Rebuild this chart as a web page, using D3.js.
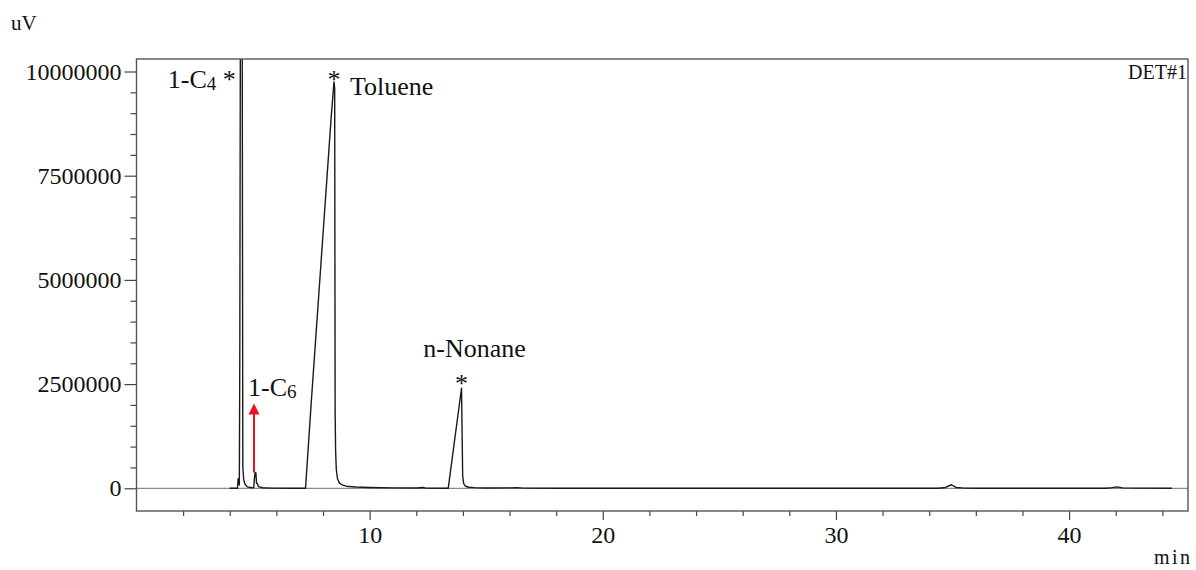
<!DOCTYPE html>
<html>
<head>
<meta charset="utf-8">
<script src="https://cdn.jsdelivr.net/npm/d3@7/dist/d3.min.js"></script>
<style>
  body { margin: 0; background: #fff; }
  svg text { font-family: "Liberation Serif", "Times New Roman", serif; fill: #111; }
</style>
</head>
<body>
<div id="chart"></div>
<script>
// chromatogram trace (min, uV)
const traceTime = [
  4.00, 4.33, 4.36, 4.38, 4.41, 4.43, 4.46, 4.53, 4.56, 4.60, 4.66, 4.75, 4.95,
  5.03, 5.06, 5.09, 5.12, 5.15, 5.19, 5.23, 5.40, 5.80, 6.50,
  7.25, 7.50, 7.80, 8.10, 8.35, 8.47, 8.50, 8.52, 8.54, 8.57, 8.62, 8.70, 8.82, 9.00, 9.40,
  10.0, 11.0, 12.0, 12.30, 12.40, 13.0,
  13.37, 13.94, 13.99, 14.03, 14.10, 14.25, 14.50, 15.0, 16.0, 16.30, 16.6, 18.0, 20.0,
  34.4, 34.7, 34.95, 35.15, 35.5, 36.0,
  41.6, 41.85, 42.05, 42.3, 42.8, 44.4
];
const traceSignal = [
  0, 0, 230000, 150000, 80000, 3000000, 12500000, 12500000, 500000, 200000, 90000, 35000, 12000,
  20000, 250000, 380000, 370000, 120000, 110000, 40000, 12000, 4000, 1000,
  0, 2100000, 4500000, 6900000, 8900000, 9750000, 9600000, 1800000, 900000, 450000, 230000, 130000, 80000, 50000, 30000,
  18000, 10000, 6000, 20000, 5000, 2000,
  0, 2400000, 300000, 120000, 55000, 25000, 15000, 8000, 10000, 15000, 3000, 1000, 0,
  0, 20000, 85000, 20000, 5000, 0,
  0, 15000, 35000, 10000, 3000, 0
];

// labelled peaks
const peakNames = ['1-C4', '1-C6', 'Toluene', 'n-Nonane'];
const peakTimes = [4.43, 5.06, 8.47, 13.94];
const peakSignals = [12500000, 380000, 9750000, 2400000];

const xTicks = [10, 20, 30, 40];
const yTicks = [0, 2500000, 5000000, 7500000, 10000000];
const xMinorTicks = d3.range(2, 45, 2).filter(d => d % 10 !== 0);
const yMinorTicks = d3.range(0, 10300000, 500000).filter(d => d % 2500000 !== 0);

const W = 1196, H = 570;
const MARGIN = {TOP: 59, RIGHT: 8, BOTTOM: 59, LEFT: 136.5};

const svg = d3.select('#chart').append('svg')
  .attr('width', W)
  .attr('height', H)
  .style('display', 'block');

svg.append('rect').attr('width', W).attr('height', H).attr('fill', '#fff');

const x = d3.scaleLinear()
  .domain([0, 45.1])
  .range([MARGIN.LEFT, W - MARGIN.RIGHT]);

const y = d3.scaleLinear()
  .domain([-545000, 10300000])
  .range([H - MARGIN.BOTTOM, MARGIN.TOP]);

svg.append('clipPath').attr('id', 'plot')
  .append('rect')
    .attr('x', MARGIN.LEFT)
    .attr('y', MARGIN.TOP)
    .attr('width', W - MARGIN.LEFT - MARGIN.RIGHT)
    .attr('height', H - MARGIN.TOP - MARGIN.BOTTOM);

// axes
const styleAxis = g => {
  g.select('.domain').remove();
  g.selectAll('line').attr('stroke', '#444').attr('stroke-width', 1.2);
  g.selectAll('text').attr('font-size', 24).attr('fill', '#333')
    .attr('font-family', '"Liberation Serif", serif');
};

svg.append('g')
  .attr('transform', `translate(${MARGIN.LEFT},0)`)
  .call(d3.axisLeft(y).tickValues(yMinorTicks).tickSize(6).tickFormat(''))
  .call(styleAxis);

svg.append('g')
  .attr('transform', `translate(${MARGIN.LEFT},0)`)
  .call(d3.axisLeft(y).tickValues(yTicks).tickSize(12).tickPadding(3).tickFormat(d3.format('d')))
  .call(styleAxis);

svg.append('g')
  .attr('transform', `translate(0,${H - MARGIN.BOTTOM})`)
  .call(d3.axisBottom(x).tickValues(xMinorTicks).tickSize(5).tickFormat(''))
  .call(styleAxis);

svg.append('g')
  .attr('transform', `translate(0,${H - MARGIN.BOTTOM})`)
  .call(d3.axisBottom(x).tickValues(xTicks).tickSize(9).tickPadding(6))
  .call(styleAxis);

// zero line
svg.append('line')
  .attr('x1', x(0)).attr('x2', x(45.1))
  .attr('y1', y(0)).attr('y2', y(0))
  .attr('stroke', '#8a8a8a')
  .attr('stroke-width', 1.2);

// trace
const points = traceTime.map((t, i) => [t, traceSignal[i]]);
svg.append('path')
  .datum(points)
  .attr('clip-path', 'url(#plot)')
  .attr('fill', 'none')
  .attr('stroke', '#1a1a1a')
  .attr('stroke-width', 1.4)
  .attr('stroke-linejoin', 'round')
  .attr('d', d3.line().x(d => x(d[0])).y(d => y(d[1])));

// frame
svg.append('rect')
  .attr('x', MARGIN.LEFT)
  .attr('y', MARGIN.TOP)
  .attr('width', W - MARGIN.LEFT - MARGIN.RIGHT)
  .attr('height', H - MARGIN.TOP - MARGIN.BOTTOM)
  .attr('fill', 'none')
  .attr('stroke', '#555')
  .attr('stroke-width', 1.4);

// axis titles
svg.append('text').attr('x', 11).attr('y', 30).attr('font-size', 21).attr('fill', '#333').text('uV');
svg.append('text').attr('x', 1154).attr('y', 564)
  .attr('font-size', 20).attr('letter-spacing', 2.5).attr('fill', '#333').text('min');
svg.append('text').attr('x', 1187).attr('y', 79).attr('text-anchor', 'end')
  .attr('font-size', 20).attr('fill', '#333').text('DET#1');

// peak annotations
const FS = 26;
const withSub = (sel, base, sub) => {
  sel.append('tspan').text(base);
  sel.append('tspan').attr('font-size', 19).attr('dy', 2).text(sub);
};

// 1-C4 (off-scale peak)
const c4 = svg.append('text')
  .attr('x', x(peakTimes[0]) - 4)
  .attr('y', MARGIN.TOP + 29)
  .attr('text-anchor', 'end')
  .attr('font-size', FS);
withSub(c4, '1-C', '4');
c4.append('tspan').attr('dy', -2).text(' *');

// 1-C6 with red arrow
const c6x = x(peakTimes[1]) - 0.5;
const c6 = svg.append('text')
  .attr('x', c6x - 6)
  .attr('y', y(peakSignals[1]) - 76)
  .attr('font-size', FS);
withSub(c6, '1-C', '6');

const arrowTop = y(peakSignals[1]) - 69;
svg.append('line')
  .attr('x1', c6x).attr('x2', c6x)
  .attr('y1', y(peakSignals[1])).attr('y2', arrowTop + 9)
  .attr('stroke', '#e8141e').attr('stroke-width', 2);
svg.append('path')
  .attr('d', `M${c6x},${arrowTop} L${c6x - 5.5},${arrowTop + 11} L${c6x + 5.5},${arrowTop + 11} Z`)
  .attr('fill', '#e8141e');

// Toluene
svg.append('text')
  .attr('x', x(peakTimes[2]))
  .attr('y', y(peakSignals[2]) + 6)
  .attr('text-anchor', 'middle')
  .attr('font-size', FS)
  .text('*');
svg.append('text')
  .attr('x', x(peakTimes[2]) + 16)
  .attr('y', y(peakSignals[2]) + 13)
  .attr('font-size', FS)
  .text(peakNames[2]);

// n-Nonane
svg.append('text')
  .attr('x', x(peakTimes[3]))
  .attr('y', y(peakSignals[3]) + 4)
  .attr('text-anchor', 'middle')
  .attr('font-size', FS)
  .text('*');
svg.append('text')
  .attr('x', x(peakTimes[3]) + 13)
  .attr('y', y(peakSignals[3]) - 31)
  .attr('text-anchor', 'middle')
  .attr('font-size', FS)
  .text(peakNames[3]);
</script>
</body>
</html>
